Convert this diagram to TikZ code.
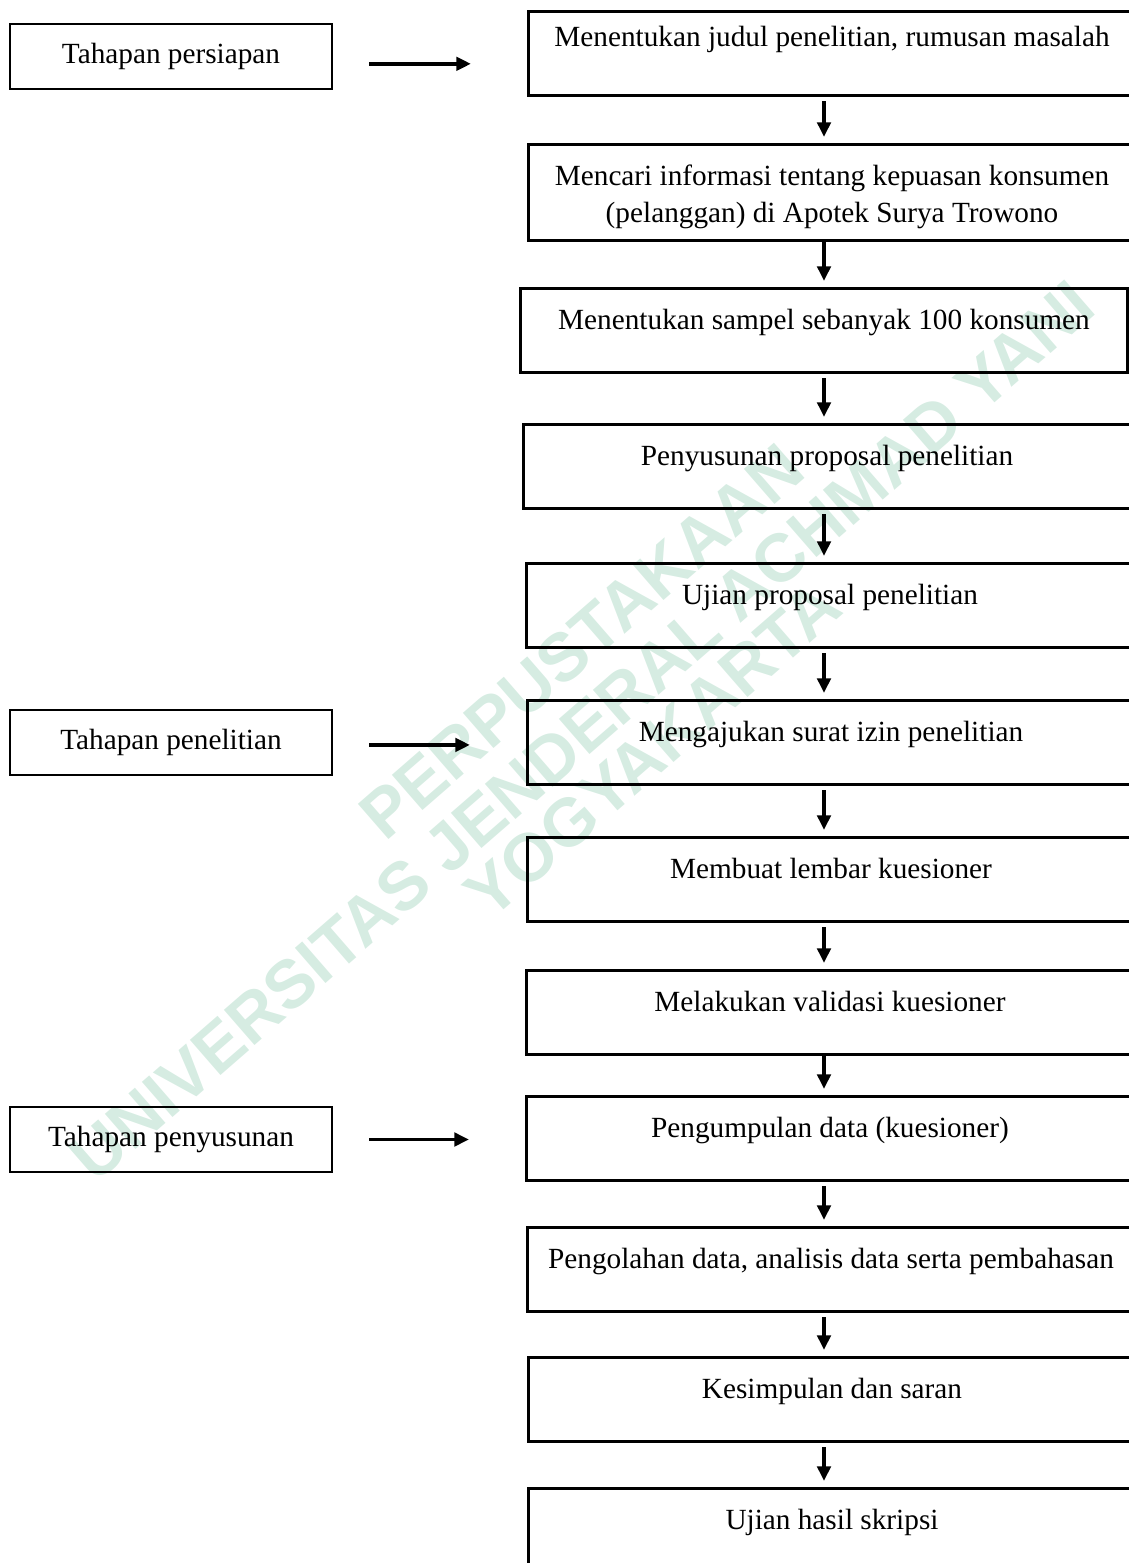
\documentclass[tikz,border=0pt]{standalone}
\usepackage{fontspec}
\setmainfont{Liberation Serif}
\newfontfamily\markfont{Liberation Sans}
\usepackage{tikz}
\usetikzlibrary{arrows.meta}
\definecolor{markgreen}{RGB}{214,236,226}
\tikzset{
  stage/.style={draw, line width=1.1pt, minimum width=132pt, minimum height=26.7pt, inner sep=0pt},
  stepbox/.style={draw, line width=1.1pt, anchor=north west, minimum width=249pt, inner sep=0pt,
    text height=16.8pt, text depth=17.6pt},
  varrow/.style={line width=1.5pt, -{Triangle[length=6pt,width=5.5pt]}, shorten <=2pt, shorten >=2.5pt},
  harrow/.style={line width=1.5pt, -{Triangle[length=6pt,width=5.5pt]}, shorten <=14.8pt, shorten >=23pt},
  wmtext/.style={text=markgreen, font=\markfont\bfseries\fontsize{27.8pt}{30pt}\selectfont,
    rotate=41, inner sep=0pt, anchor=base west}
}

\begin{document}
\begin{tikzpicture}[x=0.41pt, y=-0.41pt, font=\fontsize{12pt}{15pt}\selectfont]
\useasboundingbox (0,0) rectangle (1129,1563);
\clip (0,0) rectangle (1129,1563);

\node[wmtext] (wmtop) at (385,843) {PERPUSTAKAAN};
\node[wmtext] (wmmid) at (95,1185) {UNIVERSITAS JENDERAL ACHMAD YANI};
\node[wmtext] (wmlow) at (490,922) {YOGYAKARTA};

\node[stage] (persiapan) at (171,56.5) {Tahapan persiapan};
\node[stage] (penelitian) at (171,742.5) {Tahapan penelitian};
\node[stage] (penyusunan) at (171,1139.5) {Tahapan penyusunan};

\node[stepbox, text height=14.6pt, text depth=19.8pt] (judul) at (527,10)
  {Menentukan judul penelitian, rumusan masalah};
\node[stepbox, align=center, text height=32pt, text depth=7.4pt] (informasi) at (527,143)
  {Mencari informasi tentang kepuasan konsumen\\(pelanggan) di Apotek Surya Trowono};
\node[stepbox] (sampel) at (519,287) {Menentukan sampel sebanyak 100 konsumen};
\node[stepbox] (proposal) at (522,423) {Penyusunan proposal penelitian};
\node[stepbox] (ujian) at (525,562) {Ujian proposal penelitian};
\node[stepbox] (surat) at (526,699) {Mengajukan surat izin penelitian};
\node[stepbox] (kuesioner) at (526,836) {Membuat lembar kuesioner};
\node[stepbox] (validasi) at (525,969) {Melakukan validasi kuesioner};
\node[stepbox] (pengumpulan) at (525,1095) {Pengumpulan data (kuesioner)};
\node[stepbox] (pengolahan) at (526,1226) {Pengolahan data, analisis data serta pembahasan};
\node[stepbox] (kesimpulan) at (527,1356) {Kesimpulan dan saran};
\node[stepbox] (skripsi) at (527,1487) {Ujian hasil skripsi};

\coordinate (spine) at (824,0);

\draw[harrow] ([yshift=-3pt]persiapan.east) -- ([yshift=-3pt]persiapan.east -| judul.west);
\draw[harrow] ([yshift=-1pt]penelitian.east) -- ([yshift=-1pt]penelitian.east -| surat.west);
\draw[harrow] (penyusunan.east) -- (penyusunan.east -| pengumpulan.west);

\draw[varrow] (judul.south -| spine) -- (informasi.north -| spine);
\draw[varrow, shorten <=0pt] (informasi.south -| spine) -- (sampel.north -| spine);
\draw[varrow] (sampel.south -| spine) -- (proposal.north -| spine);
\draw[varrow] (proposal.south -| spine) -- (ujian.north -| spine);
\draw[varrow] (ujian.south -| spine) -- (surat.north -| spine);
\draw[varrow] (surat.south -| spine) -- (kuesioner.north -| spine);
\draw[varrow] (kuesioner.south -| spine) -- (validasi.north -| spine);
\draw[varrow, shorten <=0pt] (validasi.south -| spine) -- (pengumpulan.north -| spine);
\draw[varrow] (pengumpulan.south -| spine) -- (pengolahan.north -| spine);
\draw[varrow] (pengolahan.south -| spine) -- (kesimpulan.north -| spine);
\draw[varrow] (kesimpulan.south -| spine) -- (skripsi.north -| spine);
\end{tikzpicture}
\end{document}
